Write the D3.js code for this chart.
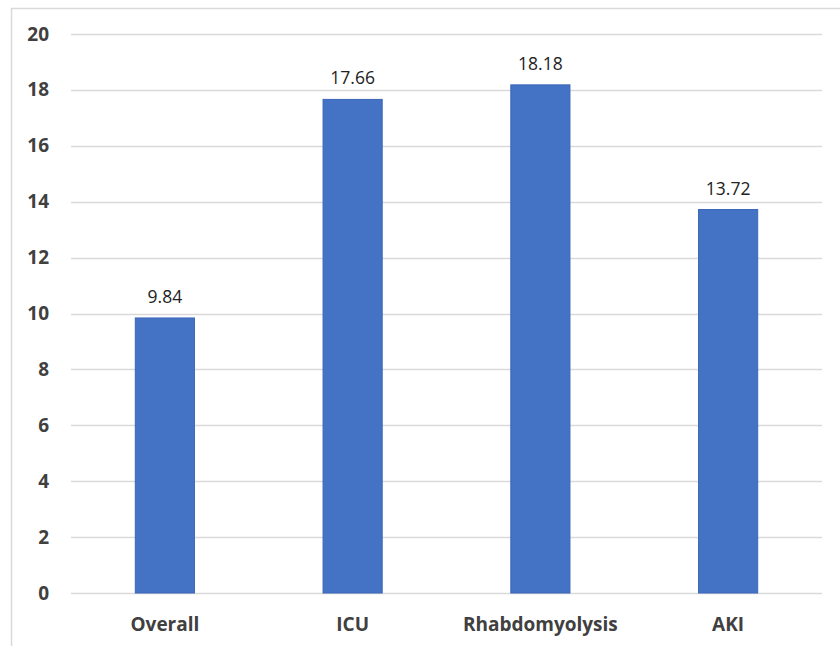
<!DOCTYPE html>
<html>
<head>
<meta charset="utf-8">
<script src="https://cdn.jsdelivr.net/npm/d3@7"></script>
<style>
  html, body { margin: 0; padding: 0; background: #fff; }
  svg { display: block; }
</style>
</head>
<body>
<svg id="chart" width="840" height="646"></svg>
<script>
const categories = ["Overall", "ICU", "Rhabdomyolysis", "AKI"];
const values = [9.84, 17.66, 18.18, 13.72];
const yTicks = [0, 2, 4, 6, 8, 10, 12, 14, 16, 18, 20];

const svg = d3.select("#chart");
const W = 840, H = 646;
const plot = { left: 71, right: 822, top: 34, bottom: 593 };
const font = "'Open Sans', 'Liberation Sans', sans-serif";

// chart frame (only top and left edges fall inside the view)
svg.append("rect")
  .attr("x", 11.5).attr("y", 8.5)
  .attr("width", W).attr("height", H)
  .attr("fill", "none")
  .attr("stroke", "#d9d9d9")
  .attr("stroke-width", 1.5);

const x = d3.scaleBand()
  .domain(categories)
  .range([plot.left, plot.right])
  .paddingInner(0.685)
  .paddingOuter(0.3425);

const y = d3.scaleLinear()
  .domain([0, 20])
  .range([plot.bottom, plot.top]);

// horizontal gridlines
svg.append("g")
  .selectAll("line")
  .data(yTicks)
  .join("line")
  .attr("x1", plot.left).attr("x2", plot.right)
  .attr("y1", d => Math.round(y(d)) + 0.5)
  .attr("y2", d => Math.round(y(d)) + 0.5)
  .attr("stroke", "#d9d9d9")
  .attr("stroke-width", 1.5);

// y axis labels
const yAxis = d3.axisLeft(y).tickValues(yTicks).tickSize(0).tickPadding(0);
const yg = svg.append("g")
  .attr("transform", `translate(49,0)`)
  .call(yAxis);
yg.select(".domain").remove();
yg.selectAll("text")
  .attr("font-family", font)
  .attr("font-weight", "bold")
  .attr("font-size", 19)
  .attr("fill", "#404040");

// bars
svg.append("g")
  .selectAll("rect")
  .data(values)
  .join("rect")
  .attr("x", (d, i) => x(categories[i]))
  .attr("y", d => y(d))
  .attr("width", x.bandwidth())
  .attr("height", d => y(0) - y(d))
  .attr("fill", "#4472c4")
  .attr("stroke", "#3a66b8")
  .attr("stroke-width", 1);

// value labels
svg.append("g")
  .selectAll("text")
  .data(values)
  .join("text")
  .attr("x", (d, i) => x(categories[i]) + x.bandwidth() / 2)
  .attr("y", d => y(d) - 15)
  .attr("text-anchor", "middle")
  .attr("font-family", font)
  .attr("font-size", 17.5)
  .attr("fill", "#222")
  .text(d => d.toFixed(2));

// category labels
const xAxis = d3.axisBottom(x).tickSize(0).tickPadding(0);
const xg = svg.append("g")
  .attr("transform", `translate(0,${plot.bottom + 38})`)
  .call(xAxis);
xg.select(".domain").remove();
xg.selectAll("text")
  .attr("dy", 0)
  .attr("font-family", font)
  .attr("font-weight", "bold")
  .attr("font-size", 19)
  .attr("fill", "#404040");
</script>
</body>
</html>
